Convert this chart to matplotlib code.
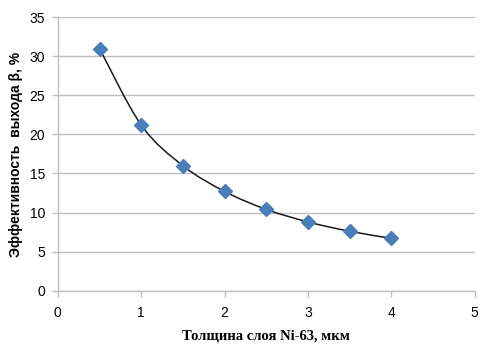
import numpy as np
import matplotlib.pyplot as plt
from matplotlib.path import Path
from matplotlib.patches import PathPatch

# data
thickness = [0.5, 1.0, 1.5, 2.0, 2.5, 3.0, 3.5, 4.0]
efficiency = [31.0, 21.2, 16.0, 12.7, 10.4, 8.8, 7.6, 6.7]

x_ticks = [0, 1, 2, 3, 4, 5]
y_ticks = [0, 5, 10, 15, 20, 25, 30, 35]

fig = plt.figure(figsize=(4.82, 3.46), dpi=100)
ax = fig.add_axes([0.120, 0.160, 0.865, 0.790])

# smoothed line like Excel: cubic bezier segments with catmull-rom control points
pts = np.column_stack([thickness, efficiency])
n = len(pts)
verts = [pts[0]]
codes = [Path.MOVETO]
t = 1.0 / 6.0
for i in range(n - 1):
    p0 = pts[i - 1] if i > 0 else pts[i]
    p1 = pts[i]
    p2 = pts[i + 1]
    p3 = pts[i + 2] if i + 2 < n else pts[i + 1]
    c1 = p1 + (p2 - p0) * t
    c2 = p2 - (p3 - p1) * t
    verts += [c1, c2, p2]
    codes += [Path.CURVE4] * 3
ax.add_patch(PathPatch(Path(verts, codes), facecolor='none', edgecolor='#1a1a1a', lw=1.1, zorder=2))

ax.plot(thickness, efficiency, linestyle='none', marker='D', markersize=7,
        color='#4a7ebb', markeredgecolor='#4a7ebb', zorder=3)

ax.set_xlim(0, 5)
ax.set_ylim(0, 35)
ax.set_xticks(x_ticks)
ax.set_yticks(y_ticks)
ax.yaxis.grid(True, color='#bfbfbf', lw=1.0)
ax.set_axisbelow(True)

for s in ['top', 'right']:
    ax.spines[s].set_visible(False)
for s in ['left', 'bottom']:
    ax.spines[s].set_color('#bfbfbf')
    ax.spines[s].set_linewidth(1.0)
ax.tick_params(axis='both', colors='#bfbfbf', length=4, width=1.0, labelcolor='black',
               labelsize=10, pad=5)
ax.tick_params(axis='x', pad=7)
for lab in ax.get_xticklabels() + ax.get_yticklabels():
    lab.set_family('Liberation Sans')

ax.set_ylabel('Эффективность  выхода β, %', fontsize=10, fontweight='bold',
              family='Liberation Sans', labelpad=5)
ax.set_xlabel('Толщина слоя Ni-63, мкм', fontsize=10.5, fontweight='bold',
              family='Liberation Serif', labelpad=7)

fig.savefig('out.png', dpi=100, facecolor='white')
